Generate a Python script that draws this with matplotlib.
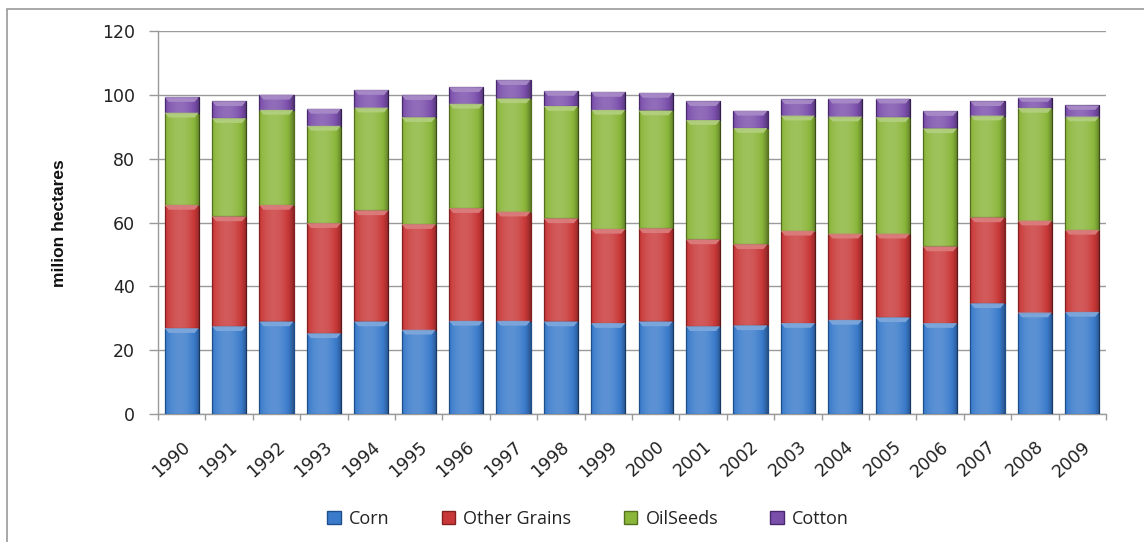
import matplotlib
matplotlib.use("Agg")
import matplotlib.pyplot as plt
import numpy as np
from matplotlib.patches import Patch, Polygon, Rectangle
from matplotlib.colors import to_rgb


YEARS = [str(y) for y in range(1990, 2010)]

# stacked segment values, million hectares
CORN = [26.9, 27.5, 29.0, 25.3, 29.0, 26.4, 29.2, 29.2, 29.0, 28.5,
        29.0, 27.5, 27.8, 28.5, 29.5, 30.3, 28.5, 34.7, 31.8, 32.0]
OTHER_GRAINS = [38.6, 34.4, 36.5, 34.5, 34.8, 33.1, 35.3, 34.2, 32.3, 29.5,
                29.2, 27.2, 25.4, 28.9, 27.0, 26.2, 24.0, 26.9, 28.8, 25.7]
OILSEEDS = [28.9, 30.8, 29.8, 30.5, 32.2, 33.5, 32.7, 35.5, 35.2, 37.3,
            36.9, 37.4, 36.4, 36.1, 36.7, 36.5, 37.0, 31.9, 35.3, 35.5]
COTTON = [4.9, 5.3, 4.7, 5.3, 5.5, 6.9, 5.2, 5.7, 4.7, 5.6,
          5.5, 5.9, 5.4, 5.1, 5.6, 5.8, 5.4, 4.5, 3.2, 3.5]

SERIES = [
    ("Corn", CORN, "#3a7bcb", "#1f4f8a"),
    ("Other Grains", OTHER_GRAINS, "#c93838", "#842020"),
    ("OilSeeds", OILSEEDS, "#8ab63a", "#55701f"),
    ("Cotton", COTTON, "#7a4eab", "#48296e"),
]

BAR_W = 0.72
GRID_GRAY = "#9a9a9a"


def lighten(color, amount):
    r, g, b = to_rgb(color)
    return (r + (1 - r) * amount, g + (1 - g) * amount, b + (1 - b) * amount)


def shade_overlay():
    # horizontal shading: darker at the edges, lighter slightly left of centre
    x = np.linspace(-1, 1, 64)
    light = np.clip(1 - ((x + 0.15) / 1.15) ** 2, 0, 1)
    rgba = np.zeros((1, 64, 4))
    rgba[..., :3] = np.where(light[None, :, None] > 0.5, 1.0, 0.0)
    rgba[..., 3] = np.where(light > 0.5, (light - 0.5) * 0.35, (0.5 - light) * 0.6)
    return rgba


def main():
    fig = plt.figure(figsize=(11.44, 5.42), dpi=100)
    ax = fig.add_axes([158 / 1144, 1 - 414 / 542, (1106 - 158) / 1144, (414 - 31) / 542])

    # outer chart frame (cropped at right and bottom)
    fig.patches.append(Rectangle((7 / 1144, -0.05), 1.1, 1 - 9 / 542 + 0.05,
                                 transform=fig.transFigure, fill=False,
                                 edgecolor="#9a9a9a", linewidth=1.2))

    x = np.arange(len(YEARS))
    bottom = np.zeros(len(YEARS))
    overlay = shade_overlay()
    handles = []
    for name, vals, color, edge in SERIES:
        vals = np.array(vals)
        bars = ax.bar(x, vals, BAR_W, bottom=bottom, color=color,
                      edgecolor=edge, linewidth=0.9, zorder=3)
        for rect in bars:
            x0, y0 = rect.get_x(), rect.get_y()
            w, h = rect.get_width(), rect.get_height()
            im = ax.imshow(overlay, extent=(x0, x0 + w, y0, y0 + h),
                           aspect="auto", zorder=3.5, interpolation="bilinear")
            im.set_clip_path(rect)
            top = y0 + h
            d = min(1.5, h * 0.4)
            inset = w * 0.12
            ax.add_patch(Polygon(
                [(x0, top), (x0 + w, top), (x0 + w - inset, top - d), (x0 + inset, top - d)],
                closed=True, facecolor=lighten(color, 0.35), edgecolor="none",
                alpha=0.9, zorder=3.6))
        handles.append(Patch(facecolor=color, edgecolor=edge, label=name))
        bottom = bottom + vals

    ax.set_xlim(-0.5, len(YEARS) - 0.5)
    ax.set_ylim(0, 120)
    ax.set_yticks(range(0, 121, 20))
    ax.grid(axis="y", color=GRID_GRAY, linewidth=1.0, zorder=0)
    ax.set_axisbelow(True)

    for side in ("top", "right"):
        ax.spines[side].set_visible(False)
    for side in ("left", "bottom"):
        ax.spines[side].set_color(GRID_GRAY)
        ax.spines[side].set_linewidth(1.0)

    ax.tick_params(axis="y", length=6.5, width=1.0, color=GRID_GRAY,
                   labelsize=12.5, labelcolor="#222222", pad=10)
    ax.set_xticks(x)
    ax.set_xticklabels(YEARS, rotation=42, ha="right", rotation_mode="anchor",
                       fontsize=12.5, color="#222222")
    ax.tick_params(axis="x", which="major", length=0, pad=17)
    ax.set_xticks(np.arange(-0.5, len(YEARS), 1.0), minor=True)
    ax.tick_params(axis="x", which="minor", length=4.5, width=1.0, color=GRID_GRAY)

    fig.text(59 / 1144, 1 - 223 / 542, "milion hectares", rotation=90,
             ha="center", va="center", fontsize=12.5, fontweight="bold",
             family=["Liberation Sans", "DejaVu Sans"], color="#111111")

    fig.legend(handles=handles, loc="center", bbox_to_anchor=(588 / 1144, 1 - 519 / 542),
               ncol=4, frameon=False, handlelength=0.75, handleheight=0.75,
               handletextpad=0.45, columnspacing=2.9,
               labelcolor="#222222",
               prop={"family": ["Open Sans", "DejaVu Sans"], "size": 13})

    fig.savefig("out.png", dpi=100)
    plt.close(fig)


if __name__ == "__main__":
    main()
